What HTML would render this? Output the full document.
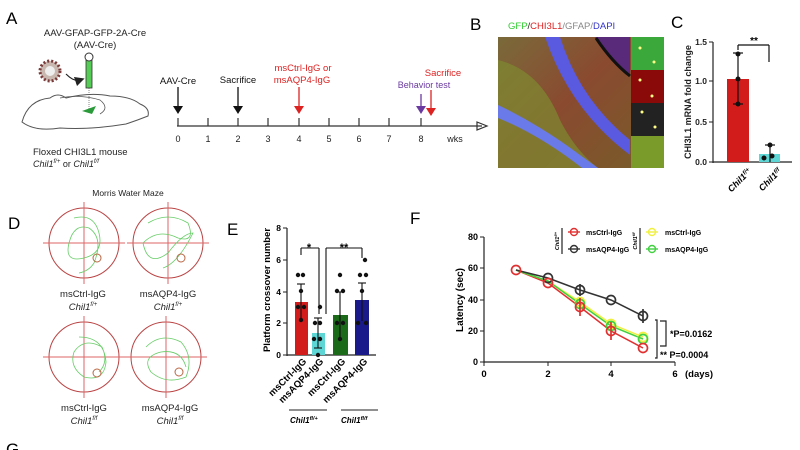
<!DOCTYPE html>
<html><head><meta charset="utf-8"><style>
html,body{margin:0;padding:0;background:#fff;}
svg{display:block;font-family:"Liberation Sans",Arial,sans-serif;}
</style></head><body>
<svg width="800" height="450" viewBox="0 0 800 450" xmlns="http://www.w3.org/2000/svg">
<defs>
<linearGradient id="bg1" x1="0" y1="0" x2="1" y2="1">
<stop offset="0" stop-color="#7a6a3a"/><stop offset="0.5" stop-color="#8a4a30"/><stop offset="1" stop-color="#7a5a2a"/>
</linearGradient>
<marker id="ah" markerWidth="8" markerHeight="8" refX="4" refY="4" orient="auto"><path d="M0,0 L8,4 L0,8 Z" fill="#222"/></marker>
</defs>
<rect width="800" height="450" fill="#fff"/>

<!-- Panel A -->
<text x="6" y="24" font-size="17">A</text>
<text x="95" y="36" font-size="9.5" text-anchor="middle" fill="#222">AAV-GFAP-GFP-2A-Cre</text>
<text x="95" y="48" font-size="9.5" text-anchor="middle" fill="#222">(AAV-Cre)</text>
<circle cx="50" cy="71" r="10" fill="#c9b8b0" stroke="#7a3a3a" stroke-width="3" stroke-dasharray="2 2"/>
<circle cx="50" cy="71" r="5" fill="#eee"/>
<path d="M66,74 Q74,82 80,80" stroke="#222" fill="none" stroke-width="1.2" marker-end="url(#ah)"/>
<rect x="86" y="60" width="6" height="28" fill="#5c5" stroke="#333" stroke-width="0.8"/>
<circle cx="89" cy="57" r="4" fill="#fff" stroke="#333"/>
<line x1="89" y1="88" x2="89" y2="112" stroke="#555" stroke-width="0.7" stroke-dasharray="1 1"/>
<path d="M22,122 Q28,100 50,98 Q58,92 66,98 Q90,92 110,96 Q130,96 140,104 Q150,108 148,116 Q138,120 126,124 Q90,130 60,128 Q35,132 22,122 Z" fill="none" stroke="#555" stroke-width="1"/>
<path d="M60,98 Q80,94 100,100 Q110,108 100,114" fill="none" stroke="#555" stroke-width="0.8"/>
<path d="M82,111 L96,106 L92,114 Z" fill="#2a9a3a"/>
<text x="33" y="155" font-size="9.5" fill="#222">Floxed CHI3L1 mouse</text>
<text x="33" y="167" font-size="9" font-style="italic" fill="#222">Chil1<tspan font-size="6" dy="-4">f/+</tspan><tspan dy="4" font-style="normal"> or </tspan>Chil1<tspan font-size="6" dy="-4">f/f</tspan></text>

<!-- timeline -->
<line x1="177" y1="126" x2="482" y2="126" stroke="#333" stroke-width="1.2"/>
<path d="M477,122 L487,126 L477,130 Z" fill="none" stroke="#333" stroke-width="1.2"/>
<g stroke="#333" stroke-width="1.2">
<line x1="178" y1="118" x2="178" y2="126"/><line x1="208" y1="118" x2="208" y2="126"/><line x1="238" y1="118" x2="238" y2="126"/><line x1="268" y1="118" x2="268" y2="126"/><line x1="299" y1="118" x2="299" y2="126"/><line x1="329" y1="118" x2="329" y2="126"/><line x1="359" y1="118" x2="359" y2="126"/><line x1="389" y1="118" x2="389" y2="126"/><line x1="421" y1="118" x2="421" y2="126"/>
</g>
<g font-size="9" text-anchor="middle" fill="#222">
<text x="178" y="142">0</text><text x="208" y="142">1</text><text x="238" y="142">2</text><text x="268" y="142">3</text><text x="299" y="142">4</text><text x="329" y="142">5</text><text x="359" y="142">6</text><text x="389" y="142">7</text><text x="421" y="142">8</text><text x="455" y="142">wks</text>
</g>
<g stroke-width="1.3">
<line x1="178" y1="87" x2="178" y2="108" stroke="#111"/><path d="M173,106 L183,106 L178,114 Z" fill="#111"/>
<line x1="238" y1="87" x2="238" y2="108" stroke="#111"/><path d="M233,106 L243,106 L238,114 Z" fill="#111"/>
<line x1="299" y1="87" x2="299" y2="108" stroke="#d22"/><path d="M294,106 L304,106 L299,114 Z" fill="#d22"/>
<line x1="421" y1="94" x2="421" y2="108" stroke="#6a3aa0"/><path d="M416,106 L426,106 L421,114 Z" fill="#6a3aa0"/>
<line x1="431" y1="90" x2="431" y2="110" stroke="#d22"/><path d="M426,108 L436,108 L431,116 Z" fill="#d22"/>
</g>
<text x="178" y="84" font-size="9.5" text-anchor="middle" fill="#111">AAV-Cre</text>
<text x="238" y="83" font-size="9.5" text-anchor="middle" fill="#111">Sacrifice</text>
<text x="303" y="71" font-size="9.5" text-anchor="middle" fill="#d22">msCtrl-IgG or</text>
<text x="302" y="83" font-size="9.5" text-anchor="middle" fill="#d22">msAQP4-IgG</text>
<text x="443" y="76" font-size="9.5" text-anchor="middle" fill="#d22">Sacrifice</text>
<text x="424" y="88" font-size="9" text-anchor="middle" fill="#6a3aa0">Behavior test</text>

<!-- Panel B -->
<text x="470" y="30" font-size="17">B</text>
<text x="508" y="29" font-size="9.5"><tspan fill="#3c3">GFP</tspan><tspan fill="#222">/</tspan><tspan fill="#d22">CHI3L1</tspan><tspan fill="#888">/GFAP/</tspan><tspan fill="#33c">DAPI</tspan></text>
<rect x="498" y="37" width="133" height="131" fill="url(#bg1)"/>
<path d="M498,60 Q540,70 560,120 Q575,150 598,168 L498,168 Z" fill="#7f8a30" opacity="0.7"/>
<path d="M545,37 L560,37 Q580,100 630,140 L630,155 Q570,110 545,37 Z" fill="#5a5ae0"/>
<path d="M498,105 Q540,125 580,155 L598,168 L582,168 Q540,135 498,118 Z" fill="#6a7ae8"/>
<path d="M595,37 L630,37 L630,75 Q610,60 595,37 Z" fill="#5a2a7a"/>
<path d="M596,38 Q612,62 630,76" stroke="#111" stroke-width="3" fill="none"/>
<rect x="631" y="37" width="33" height="33" fill="#3aa83a"/>
<rect x="631" y="70" width="33" height="33" fill="#8a0a0a"/>
<rect x="631" y="103" width="33" height="33" fill="#222"/>
<rect x="631" y="136" width="33" height="32" fill="#7a9a2a"/>
<g fill="#ff8"><circle cx="640" cy="48" r="1.5"/><circle cx="654" cy="62" r="1.5"/><circle cx="640" cy="80" r="1.5"/><circle cx="652" cy="96" r="1.5"/><circle cx="642" cy="112" r="1.5"/><circle cx="655" cy="127" r="1.5"/></g>

<!-- Panel C -->
<text x="671" y="28" font-size="17">C</text>
<text transform="translate(691,102) rotate(-90)" font-size="9" text-anchor="middle" font-weight="bold" fill="#222">CHI3L1 mRNA fold change</text>
<line x1="713" y1="42" x2="713" y2="163" stroke="#222" stroke-width="1.2"/>
<line x1="713" y1="162" x2="792" y2="162" stroke="#222" stroke-width="1.2"/>
<g stroke="#222"><line x1="709" y1="42" x2="713" y2="42"/><line x1="709" y1="81" x2="713" y2="81"/><line x1="709" y1="122" x2="713" y2="122"/><line x1="709" y1="162" x2="713" y2="162"/></g>
<g font-size="8.5" text-anchor="end" font-weight="bold" fill="#222"><text x="707" y="45">1.5</text><text x="707" y="84">1.0</text><text x="707" y="125">0.5</text><text x="707" y="165">0.0</text></g>
<rect x="727" y="79" width="22" height="83" fill="#d21b1b"/>
<rect x="759" y="154" width="21" height="8" fill="#5fd6d6"/>
<g stroke="#111" stroke-width="1.2"><line x1="738" y1="53" x2="738" y2="104"/><line x1="733" y1="53" x2="743" y2="53"/><line x1="733" y1="104" x2="743" y2="104"/>
<line x1="770" y1="145" x2="770" y2="162"/><line x1="765" y1="145" x2="775" y2="145"/>
<line x1="738" y1="45" x2="769" y2="45"/><line x1="769" y1="45" x2="769" y2="62"/><line x1="738" y1="45" x2="738" y2="50"/></g>
<g fill="#111"><circle cx="738" cy="54" r="2.5"/><circle cx="738" cy="79" r="2.5"/><circle cx="738" cy="104" r="2.5"/><circle cx="764" cy="158" r="2.5"/><circle cx="772" cy="156" r="2.5"/><circle cx="770" cy="145" r="2.5"/></g>
<text x="754" y="44" font-size="10" font-weight="bold" text-anchor="middle">**</text>
<text transform="translate(752,172) rotate(-45)" font-size="9" font-style="italic" font-weight="bold" text-anchor="end">Chil1<tspan font-size="6" dy="-3">f/+</tspan></text>
<text transform="translate(782,172) rotate(-45)" font-size="9" font-style="italic" font-weight="bold" text-anchor="end">Chil1<tspan font-size="6" dy="-3">f/f</tspan></text>

<!-- Panel D -->
<text x="8" y="229" font-size="17">D</text>
<text x="128" y="196" font-size="8.5" text-anchor="middle" fill="#222">Morris Water Maze</text>
<g fill="none">
<g transform="translate(84,243)"><circle r="35" stroke="#b44" stroke-width="1"/><line x1="-41" y1="0" x2="41" y2="0" stroke="#d66"/><line x1="0" y1="-41" x2="0" y2="41" stroke="#d66"/><path d="M-10,-25 Q10,-30 15,-10 Q20,10 0,15 Q-20,20 -15,0 Q-10,-20 5,-15 Q20,-5 10,20 Q5,28 -5,30" stroke="#6c6" stroke-width="0.8"/><circle cx="13" cy="15" r="4" stroke="#b64"/></g>
<g transform="translate(168,243)"><circle r="35" stroke="#b44" stroke-width="1"/><line x1="-41" y1="0" x2="41" y2="0" stroke="#d66"/><line x1="0" y1="-41" x2="0" y2="41" stroke="#d66"/><path d="M-20,-20 Q0,-32 20,-20 Q28,0 10,-5 Q-10,-15 -25,0 Q-20,25 0,10 Q15,-10 25,-10 Q10,20 -5,25" stroke="#6c6" stroke-width="0.8"/><circle cx="13" cy="15" r="4" stroke="#b64"/></g>
<g transform="translate(84,357)"><circle r="35" stroke="#b44" stroke-width="1"/><line x1="-41" y1="0" x2="41" y2="0" stroke="#d66"/><line x1="0" y1="-41" x2="0" y2="41" stroke="#d66"/><path d="M-5,-20 Q20,-20 22,5 Q20,25 0,20 Q-15,10 -10,-5 Q0,-20 18,-10 Q25,5 15,15" stroke="#6c6" stroke-width="0.8"/><circle cx="13" cy="16" r="4" stroke="#b64"/></g>
<g transform="translate(166,357)"><circle r="35" stroke="#b44" stroke-width="1"/><line x1="-41" y1="0" x2="41" y2="0" stroke="#d66"/><line x1="0" y1="-41" x2="0" y2="41" stroke="#d66"/><path d="M-20,-10 Q-5,-25 15,-15 Q28,0 20,20 Q0,28 -15,15 Q-25,0 -5,-5 Q15,-8 20,10" stroke="#6c6" stroke-width="0.8"/><circle cx="13" cy="15" r="4" stroke="#b64"/></g>
</g>
<g font-size="9.5" text-anchor="middle" fill="#222">
<text x="83" y="297">msCtrl-IgG</text><text x="83" y="310" font-style="italic">Chil1<tspan font-size="6" dy="-4">f/+</tspan></text>
<text x="168" y="297">msAQP4-IgG</text><text x="168" y="310" font-style="italic">Chil1<tspan font-size="6" dy="-4">f/+</tspan></text>
<text x="84" y="411">msCtrl-IgG</text><text x="84" y="424" font-style="italic">Chil1<tspan font-size="6" dy="-4">f/f</tspan></text>
<text x="170" y="411">msAQP4-IgG</text><text x="170" y="424" font-style="italic">Chil1<tspan font-size="6" dy="-4">f/f</tspan></text>
</g>

<!-- Panel E -->
<text x="227" y="235" font-size="17">E</text>
<text transform="translate(270,290) rotate(-90)" font-size="9.5" font-weight="bold" text-anchor="middle">Platform crossover number</text>
<line x1="287" y1="228" x2="287" y2="356" stroke="#222" stroke-width="1.2"/>
<line x1="287" y1="355" x2="376" y2="355" stroke="#222" stroke-width="1.2"/>
<g stroke="#222"><line x1="283" y1="228" x2="287" y2="228"/><line x1="283" y1="260" x2="287" y2="260"/><line x1="283" y1="292" x2="287" y2="292"/><line x1="283" y1="323" x2="287" y2="323"/><line x1="283" y1="355" x2="287" y2="355"/></g>
<g font-size="8.5" font-weight="bold" text-anchor="end"><text x="281" y="231">8</text><text x="281" y="263">6</text><text x="281" y="295">4</text><text x="281" y="326">2</text><text x="281" y="358">0</text></g>
<rect x="295" y="302" width="13" height="53" fill="#d21b1b"/>
<rect x="312" y="333" width="13" height="22" fill="#5fd6d6"/>
<rect x="333" y="315" width="15" height="40" fill="#1a6a1a"/>
<rect x="355" y="300" width="14" height="55" fill="#1a1a8a"/>
<g stroke="#111" stroke-width="1.1">
<line x1="301" y1="284" x2="301" y2="322"/><line x1="297" y1="284" x2="305" y2="284"/>
<line x1="318" y1="318" x2="318" y2="348"/><line x1="314" y1="318" x2="322" y2="318"/><line x1="314" y1="348" x2="322" y2="348"/>
<line x1="340" y1="292" x2="340" y2="340"/><line x1="336" y1="292" x2="344" y2="292"/>
<line x1="362" y1="283" x2="362" y2="321"/><line x1="358" y1="283" x2="366" y2="283"/>
<line x1="301" y1="248" x2="319" y2="248"/><line x1="301" y1="248" x2="301" y2="255"/><line x1="319" y1="248" x2="319" y2="314"/>
<line x1="326" y1="248" x2="362" y2="248"/><line x1="326" y1="248" x2="326" y2="314"/><line x1="362" y1="248" x2="362" y2="258"/>
</g>
<g fill="#111">
<circle cx="298" cy="275" r="2.2"/><circle cx="303" cy="275" r="2.2"/><circle cx="298" cy="307" r="2.2"/><circle cx="304" cy="307" r="2.2"/><circle cx="301" cy="320" r="2.2"/><circle cx="301" cy="291" r="2.2"/>
<circle cx="320" cy="307" r="2.2"/><circle cx="315" cy="323" r="2.2"/><circle cx="320" cy="323" r="2.2"/><circle cx="314" cy="339" r="2.2"/><circle cx="320" cy="339" r="2.2"/><circle cx="318" cy="355" r="2.2"/>
<circle cx="340" cy="275" r="2.2"/><circle cx="337" cy="291" r="2.2"/><circle cx="343" cy="291" r="2.2"/><circle cx="337" cy="323" r="2.2"/><circle cx="343" cy="323" r="2.2"/><circle cx="340" cy="339" r="2.2"/>
<circle cx="365" cy="260" r="2.2"/><circle cx="360" cy="275" r="2.2"/><circle cx="366" cy="275" r="2.2"/><circle cx="362" cy="291" r="2.2"/><circle cx="358" cy="323" r="2.2"/><circle cx="366" cy="323" r="2.2"/>
</g>
<text x="309" y="251" font-size="11" font-weight="bold" text-anchor="middle">*</text>
<text x="344" y="251" font-size="11" font-weight="bold" text-anchor="middle">**</text>
<g font-size="9.5" font-weight="bold" text-anchor="end">
<text transform="translate(307,362) rotate(-45)">msCtrl-IgG</text>
<text transform="translate(324,362) rotate(-45)">msAQP4-IgG</text>
<text transform="translate(346,362) rotate(-45)">msCtrl-IgG</text>
<text transform="translate(368,362) rotate(-45)">msAQP4-IgG</text>
</g>
<line x1="289" y1="410" x2="327" y2="410" stroke="#222"/>
<line x1="341" y1="410" x2="378" y2="410" stroke="#222"/>
<text x="290" y="423" font-size="8" font-style="italic" font-weight="bold">Chil1<tspan font-size="5.5" dy="-3">fl/+</tspan></text>
<text x="341" y="423" font-size="8" font-style="italic" font-weight="bold">Chil1<tspan font-size="5.5" dy="-3">fl/f</tspan></text>

<!-- Panel F -->
<text x="410" y="224" font-size="17">F</text>
<text transform="translate(463,300) rotate(-90)" font-size="10" font-weight="bold" text-anchor="middle">Latency (sec)</text>
<line x1="484" y1="237" x2="484" y2="363" stroke="#222" stroke-width="1.2"/>
<line x1="484" y1="362" x2="675" y2="362" stroke="#222" stroke-width="1.2"/>
<g stroke="#222"><line x1="480" y1="237" x2="484" y2="237"/><line x1="480" y1="268" x2="484" y2="268"/><line x1="480" y1="300" x2="484" y2="300"/><line x1="480" y1="331" x2="484" y2="331"/><line x1="480" y1="362" x2="484" y2="362"/>
<line x1="548" y1="362" x2="548" y2="366"/><line x1="611" y1="362" x2="611" y2="366"/><line x1="675" y1="362" x2="675" y2="366"/><line x1="484" y1="362" x2="484" y2="366"/></g>
<g font-size="9" font-weight="bold" text-anchor="end"><text x="478" y="240">80</text><text x="478" y="271">60</text><text x="478" y="303">40</text><text x="478" y="334">20</text><text x="478" y="365">0</text></g>
<g font-size="9.5" font-weight="bold" text-anchor="middle"><text x="484" y="377">0</text><text x="548" y="377">2</text><text x="611" y="377">4</text><text x="675" y="377">6</text><text x="699" y="377">(days)</text></g>
<polyline points="516,270 548,283 580,307 611,331 643,348" fill="none" stroke="#e03030" stroke-width="1.5"/>
<polyline points="516,270 548,281 580,302 611,324 643,337" fill="none" stroke="#f0f040" stroke-width="1.5"/>
<polyline points="516,270 548,281 580,304 611,326 643,339" fill="none" stroke="#40d040" stroke-width="1.5"/>
<polyline points="516,270 548,278 580,290 611,300 643,316" fill="none" stroke="#333" stroke-width="1.5"/>
<g fill="none" stroke-width="1.7">
<g stroke="#333"><circle cx="548" cy="278" r="4.5"/><circle cx="580" cy="290" r="4.5"/><circle cx="611" cy="300" r="4.5"/><circle cx="643" cy="316" r="4.5"/><line x1="643" y1="309" x2="643" y2="323"/><line x1="580" y1="284" x2="580" y2="296"/></g>
<g stroke="#f0f040"><circle cx="580" cy="302" r="4.5"/><circle cx="611" cy="324" r="4.5"/><circle cx="643" cy="337" r="4.5"/></g>
<g stroke="#40d040"><circle cx="580" cy="304" r="4.5"/><circle cx="611" cy="326" r="4.5"/><circle cx="643" cy="339" r="4.5"/></g>
<g stroke="#e03030"><circle cx="516" cy="270" r="4.5"/><circle cx="548" cy="283" r="4.5"/><circle cx="580" cy="307" r="4.5"/><circle cx="611" cy="331" r="4.5"/><circle cx="643" cy="348" r="4.5"/><line x1="580" y1="298" x2="580" y2="316"/><line x1="611" y1="322" x2="611" y2="340"/></g>
</g>
<g stroke="#222" stroke-width="1.2" fill="none">
<polyline points="660,321 666,321 666,346 660,346"/>
<polyline points="655,320 657,320 657,358 655,358"/>
</g>
<text x="670" y="337" font-size="9" font-weight="bold">*P=0.0162</text>
<text x="660" y="358" font-size="9" font-weight="bold">** P=0.0004</text>
<text transform="translate(559,241) rotate(-90)" font-size="5.5" font-style="italic" font-weight="bold" text-anchor="middle">Chil1<tspan font-size="4" dy="-2">f/+</tspan></text>
<line x1="562" y1="228" x2="562" y2="254" stroke="#222" stroke-width="1.2"/>
<g fill="none" stroke-width="1.4">
<line x1="568" y1="232" x2="580" y2="232" stroke="#e03030"/><circle cx="574" cy="232" r="3.5" stroke="#e03030"/>
<line x1="568" y1="249" x2="580" y2="249" stroke="#333"/><circle cx="574" cy="249" r="3.5" stroke="#333"/>
<line x1="646" y1="232" x2="658" y2="232" stroke="#f0f040"/><circle cx="652" cy="232" r="3.5" stroke="#f0f040"/>
<line x1="646" y1="249" x2="658" y2="249" stroke="#40d040"/><circle cx="652" cy="249" r="3.5" stroke="#40d040"/>
</g>
<g font-size="7" font-weight="bold"><text x="586" y="235">msCtrl-IgG</text><text x="586" y="252">msAQP4-IgG</text><text x="665" y="235">msCtrl-IgG</text><text x="665" y="252">msAQP4-IgG</text></g>
<text transform="translate(637,241) rotate(-90)" font-size="5.5" font-style="italic" font-weight="bold" text-anchor="middle">Chil1<tspan font-size="4" dy="-2">f/f</tspan></text>
<line x1="640" y1="228" x2="640" y2="254" stroke="#222" stroke-width="1.2"/>

<text x="6" y="455" font-size="17">G</text>
</svg>
</body></html>
